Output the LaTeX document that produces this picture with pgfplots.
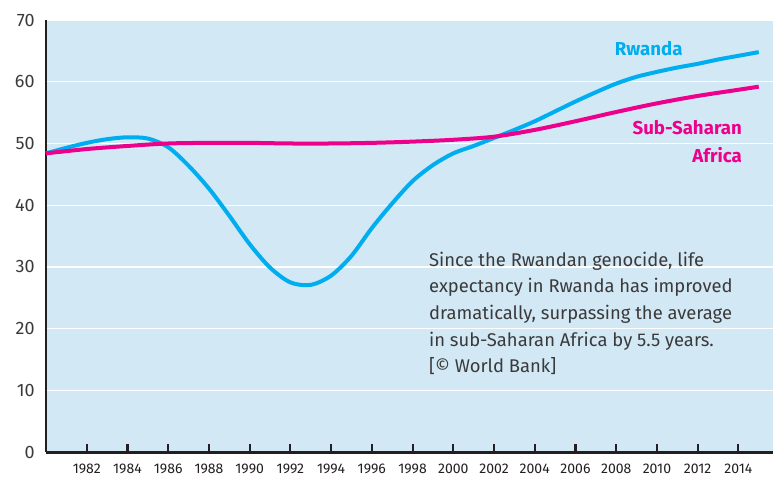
\documentclass[border=0pt]{standalone}
\usepackage{pgfplots}
\pgfplotsset{compat=1.18}
\usepackage{fontspec}
\setmainfont{Fira Sans}
\definecolor{bgc}{HTML}{D3E8F5}
\definecolor{rw}{HTML}{00AEEF}
\definecolor{ssa}{HTML}{EC008C}
\definecolor{axc}{HTML}{231F20}
\definecolor{txt}{HTML}{3A3A3A}
\begin{document}
\begin{tikzpicture}
\begin{axis}[
  scale only axis,
  width=545pt, height=324pt,
  xmin=1980, xmax=2015.7,
  ymin=0, ymax=70,
  axis background/.style={fill=bgc},
  axis x line=bottom, axis y line=left,
  axis line style={line width=2.2pt, color=axc, -},
  xtick={1982,1984,...,2014},
  ytick={0,10,...,70},
  x tick label style={/pgf/number format/1000 sep={}, font=\fontsize{10.5}{11}\selectfont, text=axc, yshift=-5pt},
  y tick label style={font=\fontsize{13.5}{14}\selectfont, text=txt, xshift=-5pt},
  /pgf/number format/assume math mode=true,
  xtick style={line width=1.6pt, color=axc},
  tick align=inside,
  major tick length=6pt,
  ytick style={draw=none},
  ymajorgrids, grid style={white, line width=1pt},
  clip=false,
]
\addplot[rw, line width=3pt, smooth, tension=0.5] coordinates {
(1980,48.4)(1981,49.3)(1982,50.1)(1983,50.7)(1984,51.0)(1985,50.8)(1986,49.4)
(1987,46.4)(1988,42.7)(1989,38.3)(1990,33.7)(1991,29.9)(1992,27.5)(1993,27.1)
(1994,28.6)(1995,31.8)(1996,36.3)(1997,40.3)(1998,43.9)(1999,46.5)(2000,48.4)
(2001,49.6)(2002,50.9)(2003,52.2)(2004,53.6)(2005,55.2)(2006,56.8)(2007,58.3)
(2008,59.7)(2009,60.8)(2010,61.6)(2011,62.3)(2012,62.9)(2013,63.6)(2014,64.2)(2015,64.8)
};
\addplot[ssa, line width=3pt, smooth, tension=0.5] coordinates {
(1980,48.4)(1982,49.1)(1984,49.6)(1986,50.0)(1988,50.1)(1990,50.1)(1992,50.0)
(1994,50.0)(1996,50.1)(1998,50.3)(2000,50.6)(2002,51.1)(2004,52.2)(2006,53.6)
(2008,55.1)(2010,56.5)(2012,57.7)(2014,58.7)(2015,59.2)
};
\node[text=rw, font=\fontsize{14}{16}\selectfont\bfseries] at (axis cs:2009.6,65.4) {Rwanda};
\node[text=ssa, font=\fontsize{14}{16}\selectfont\bfseries, anchor=east] at (axis cs:2014.4,52.5) {Sub-Saharan};
\node[text=ssa, font=\fontsize{14}{16}\selectfont\bfseries, anchor=east] at (axis cs:2014.4,48.1) {Africa};
\node[text=txt, font=\fontsize{13.8}{20}\selectfont, align=left, anchor=north west, inner sep=0pt] at (axis cs:1998.8,32.5)
{Since the Rwandan genocide, life\\expectancy in Rwanda has improved\\dramatically, surpassing the average\\in sub-Saharan Africa by 5.5 years.\\{[\textcopyright{} World Bank]}};
\end{axis}
\pgfresetboundingbox
\path ([shift={(-34.5pt,-22.5pt)}]current axis.south west) rectangle ([shift={(0pt,15pt)}]current axis.north east);
\end{tikzpicture}
\end{document}
